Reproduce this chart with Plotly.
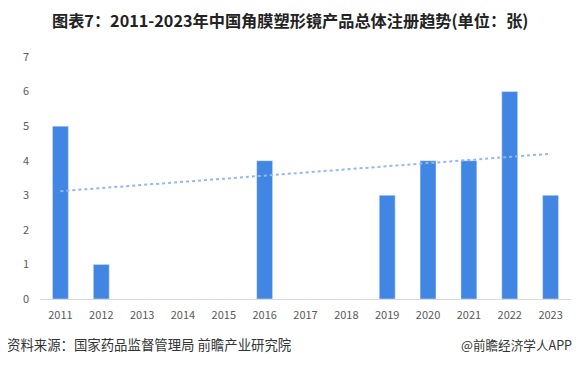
import numpy as np
import plotly.graph_objects as go

years = ["2011", "2012", "2013", "2014", "2015", "2016", "2017",
         "2018", "2019", "2020", "2021", "2022", "2023"]
registrations = [5, 1, None, None, None, 4, None, None, 3, 4, 4, 6, 3]

title_text = "图表7：2011-2023年中国角膜塑形镜产品总体注册趋势(单位：张)"
source_text = "资料来源：国家药品监督管理局 前瞻产业研究院"
brand_text = "@前瞻经济学人APP"

# linear trendline over reported values (Excel-style, blanks skipped)
idx = np.array([i for i, v in enumerate(registrations) if v is not None], dtype=float)
vals = np.array([v for v in registrations if v is not None], dtype=float)
slope, intercept = np.polyfit(idx, vals, 1)
trend = [intercept + slope * i for i in range(len(years))]

fig = go.Figure()
fig.add_trace(go.Bar(
    x=years, y=registrations, marker_color="#4286e3", width=0.39,
    showlegend=False,
))
fig.add_trace(go.Scatter(
    x=years, y=trend, mode="lines",
    line=dict(color="#93b8ee", width=2, dash="dot"),
    showlegend=False,
))

font_cjk = "Noto Sans CJK SC, Microsoft YaHei, sans-serif"

# page body has an 8px margin; figure occupies 8..582 x 8..366
OFF = 8
W, H = 582 - OFF, 366 - OFF
ML, MR, MT, MB = 40 - OFF, 11, 57 - OFF, 67

fig.update_layout(
    width=W, height=H,
    margin=dict(l=ML, r=MR, t=MT, b=MB),
    plot_bgcolor="white", paper_bgcolor="white",
    font=dict(family=font_cjk, color="#595959", size=11),
    xaxis=dict(
        type="category", range=[-0.5, 12.5],
        showline=True, linecolor="#d9d9d9", linewidth=1,
        showgrid=False, ticks="", tickfont=dict(size=11, color="#595959"),
        ticklabelstandoff=6,
    ),
    yaxis=dict(
        range=[0, 7], dtick=1, showgrid=False, zeroline=False,
        showline=False, ticks="", tickfont=dict(size=11, color="#595959"),
        ticklabelstandoff=10,
    ),
)

plot_w = W - ML - MR
plot_h = H - MT - MB


def ann(text, px, py, anchor, size, color):
    # px, py are target pixel positions in the 582x366 window
    fig.add_annotation(
        text=text, showarrow=False, xref="paper", yref="paper",
        x=(px - OFF - ML) / plot_w, y=(H - MB - (py - OFF)) / plot_h,
        xanchor=anchor, yanchor="middle",
        font=dict(size=size, color=color, family=font_cjk),
    )


ann("<b>" + title_text + "</b>", 290, 20, "center", 16.2, "#222222")
ann(source_text, 5, 344, "left", 13.4, "#333333")
ann(brand_text, 574, 344, "right", 12.6, "#333333")

fig.write_html("out.html")
